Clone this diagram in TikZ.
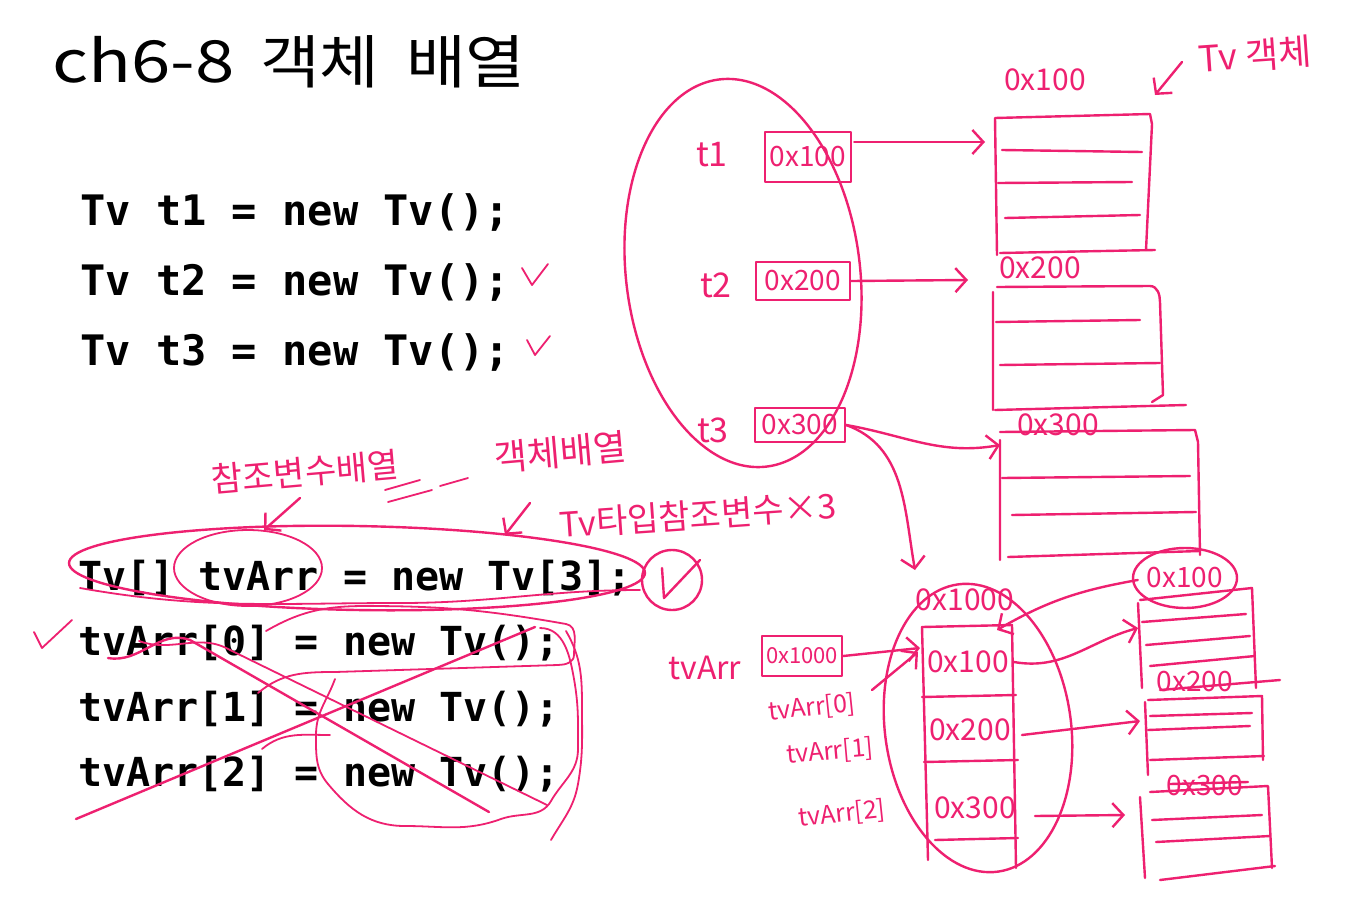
\documentclass[tikz,border=0pt]{standalone}
\usepackage{fontspec}
\setmainfont{Noto Sans CJK KR}
\newfontfamily\codefont{DejaVu Sans Mono}
\newfontfamily\hand{Noto Sans CJK KR}
\newfontfamily\titlelatin[FakeStretch=1.22]{Noto Sans CJK KR}
\newfontfamily\titlekor[FakeStretch=1.12]{Noto Sans CJK KR}
\usetikzlibrary{arrows.meta,shapes.geometric}
\definecolor{pen}{RGB}{238,32,112}
\begin{document}
\begin{tikzpicture}[x=1pt,y=-1pt,
  ink/.style={draw=pen,line width=2.4pt,line cap=round,line join=round},
  thin ink/.style={draw=pen,line width=1.8pt,line cap=round,line join=round},
  arr/.style={ink,-{Straight Barb[length=11pt,width=24pt,line width=2.4pt]}},
  codeA/.style={font=\codefont\bfseries\fontsize{42}{42}\selectfont,anchor=base west,inner sep=0pt},
  codeB/.style={font=\codefont\bfseries\fontsize{40}{40}\selectfont,anchor=base west,inner sep=0pt},
  hw/.style={text=pen,font=\hand\fontsize{28}{28}\selectfont,inner sep=1pt},
  hwl/.style={text=pen,font=\hand\fontsize{34}{34}\selectfont,inner sep=1pt},
  hws/.style={text=pen,font=\hand\fontsize{25}{25}\selectfont,inner sep=0pt},
  cellbox/.style={ink,minimum width=86pt,minimum height=44pt,inner sep=0pt},
  titlefont/.style={anchor=base west,inner sep=0pt}
]
\useasboundingbox[fill=white] (0,0) rectangle (1360,918);

% title
\node[titlefont,font=\titlelatin\fontsize{58}{58}\selectfont] (title) at (52,82) {ch6-8};
\node[titlefont,font=\titlekor\fontsize{58}{58}\selectfont] (title2) at (260,83) {객체};
\node[titlefont,font=\titlekor\fontsize{58}{58}\selectfont] (title3) at (406,83) {배열};

% code
\node[codeA] (l1) at (80,225) {Tv t1 = new Tv();};
\node[codeA] (l2) at (80,295) {Tv t2 = new Tv();};
\node[codeA] (l3) at (80,365) {Tv t3 = new Tv();};
\node[codeB] (m0) at (78,590) {Tv[] tvArr = new Tv[3];};
\node[codeB] (m1) at (78,655) {tvArr[0] = new Tv();};
\node[codeB] (m2) at (78,721) {tvArr[1] = new Tv();};
\node[codeB] (m3) at (78,786) {tvArr[2] = new Tv();};

% check marks by code
\draw[thin ink] (522,268) -- (532,285) -- (548,264);
\draw[thin ink] (527,340) -- (535,355) -- (550,336);
\draw[thin ink] (34,632) -- (42,648) -- (72,620);

% ---------- upper memory picture ----------
\draw[ink,rotate around={7:(743,273)}] (743,273) ellipse [x radius=117, y radius=195];
\node[hwl] (t1) at (712,155) {t1};
\node[hwl] (t2) at (716,285) {t2};
\node[hwl] (t3) at (713,430) {t3};
\node[cellbox,hw,minimum width=86pt,minimum height=50pt] (b1) at (808,157) {0x100};
\node[cellbox,hw,minimum width=94pt,minimum height=38pt] (b2) at (803,281) {0x200};
\node[cellbox,hw,minimum width=90pt,minimum height=34pt] (b3) at (800,425) {0x300};

% Tv objects
\draw[ink] (997,255) -- (995,118) -- (1150,114) -- (1152,124) -- (1146,250);
\draw[ink] (1000,253) -- (1155,250);
\draw[ink] (1002,150) -- (1142,152);
\draw[ink] (998,183) -- (1132,182);
\draw[ink] (1005,218) -- (1140,215);
\node[hw,font=\hand\fontsize{30}{30}\selectfont] (a1) at (1045,80) {0x100};

\draw[ink] (993,410) -- (993,292) (997,287) -- (1150,286) to[out=0,in=90] (1160,302) -- (1163,395) -- (1152,402);
\draw[ink] (995,410) -- (1186,405);
\draw[ink] (996,322) -- (1140,320);
\draw[ink] (1000,365) -- (1160,363);
\node[hw,font=\hand\fontsize{30}{30}\selectfont] (a2) at (1040,268) {0x200};

\draw[ink] (1000,560) -- (1000,440) (1000,432) -- (1195,430) -- (1198,442) -- (1200,555);
\draw[ink] (1002,478) -- (1190,476);
\draw[ink] (1012,515) -- (1196,512);
\draw[ink] (1008,557) -- (1200,551);
\node[hw,font=\hand\fontsize{30}{30}\selectfont] (a3) at (1058,425) {0x300};

\node[hwl,font=\hand\fontsize{36}{36}\selectfont,rotate=4] (tvobj) at (1255,55) {Tv 객체};
\draw[arr] (1182,62) -- (1155,95);

\draw[arr] (b1.east) ++(2,-15) -- (985,142);
\draw[arr] (b2.east) -- (968,280);
\draw[arr] (b3.east) to[out=-10,in=190] (1000,445);
\coordinate (arrTop) at (915,570);
\draw[arr] (b3.east) to[out=-20,in=100] (arrTop);

% ---------- array picture ----------
\draw[ink,rotate around={8:(978,728)}] (978,728) ellipse [x radius=93, y radius=145];
\node[hw,font=\hand\fontsize{30}{30}\selectfont] (arrAddr) at (965,600) {0x1000};
\draw[ink] (922,627) -- (1012,625) -- (1016,868);
\draw[ink] (922,627) -- (928,860);
\draw[ink] (922,697) -- (1016,695);
\draw[ink] (924,762) -- (1018,760);
\draw[ink] (935,840) -- (1018,838);
\node[hw,font=\hand\fontsize{30}{30}\selectfont] (c0) at (968,662) {0x100};
\node[hw,font=\hand\fontsize{30}{30}\selectfont] (c1) at (970,730) {0x200};
\node[hw,font=\hand\fontsize{30}{30}\selectfont] (c2) at (975,808) {0x300};

\node[hwl,font=\hand\fontsize{32}{32}\selectfont] (tvArr) at (705,668) {tvArr};
\node[cellbox,hws,font=\hand\fontsize{22}{22}\selectfont,minimum width=80pt,minimum height=40pt] (bx) at (802,656) {0x1000};
\draw[arr] (bx.east) -- (920,648);
\node[hws,rotate=6] (r0) at (812,708) {tvArr[0]};
\node[hws,rotate=5] (r1) at (830,752) {tvArr[1]};
\node[hws,rotate=6] (r2) at (842,814) {tvArr[2]};
\coordinate (r0tip) at (872,690);
\draw[arr] (r0tip) -- (918,652);

% right-hand Tv objects
\draw[ink] (1185,578) ellipse [x radius=52, y radius=30];
\node[hw] (d1) at (1185,578) {0x100};
\draw[ink] (1138,603) -- (1142,688) (1140,600) -- (1252,588) -- (1256,688);
\draw[ink] (1142,622) -- (1246,614);
\draw[ink] (1146,645) -- (1250,636);
\draw[ink] (1150,666) -- (1255,656);
\draw[ink] (1160,690) -- (1280,680);
\node[hw] (d2) at (1195,682) {0x200};
\draw[ink] (1145,702) -- (1148,775) (1148,700) -- (1262,696) -- (1263,760);
\draw[ink] (1150,716) -- (1252,713);
\draw[ink] (1148,730) -- (1250,726);
\draw[ink] (1150,760) -- (1264,756);
\node[hw] (d3) at (1205,786) {0x300};
\draw[ink] (1170,784) -- (1248,782);
\draw[ink] (1140,797) -- (1145,878) (1150,792) -- (1268,786) -- (1272,868);
\draw[ink] (1152,820) -- (1262,815);
\draw[ink] (1156,842) -- (1270,836);
\draw[ink] (1160,880) -- (1275,866);

\draw[arr] (c0.east) ++(4,0) to[out=-10,in=195] (1138,628);
\draw[arr] (c1.east) ++(10,5) -- (1140,721);
\draw[arr] (c2.east) ++(18,8) -- (1125,815);
\draw[arr] (d1.west) ++(-8,2) to[out=190,in=30] (997,630);

% ---------- annotations ----------
\node[hwl,rotate=5] (n1) at (305,472) {참조변수배열};
\draw[thin ink] (385,490) -- (420,480) (388,502) -- (432,490) (440,486) -- (468,478);
\node[hwl,font=\hand\fontsize{36}{36}\selectfont,rotate=5] (n2) at (560,452) {객체배열};
\node[hwl,rotate=4] (n3) at (698,515) {Tv타입참조변수×3};
\draw[arr] (300,498) -- (264,530);
\draw[arr] (530,503) -- (505,535);

% ellipses around code
\draw[ink,rotate around={-1:(357,568)}] (357,568) ellipse [x radius=288, y radius=42];
\draw[thin ink] (248,568) ellipse [x radius=74, y radius=38];
\draw[thin ink] (80,588) to[out=-10,in=180] (400,603) to[out=0,in=180] (640,590);
% loop around the first new Tv();
\draw[thin ink] (266,631) to[out=30,in=180] (366,606) to[out=0,in=170] (566,624) to[out=-10,in=90] (574,655) to[out=-90,in=0] (558,665) -- (335,672);
% big loop
\draw[thin ink] (335,679) to[out=-110,in=90] (316,735) to[out=-90,in=130] (328,784) to[out=-50,in=180] (405,826) to[out=0,in=200] (501,819) to[out=20,in=-120] (551,801) to[out=60,in=-90] (578,749) to[out=90,in=-80] (574,679) to[out=100,in=0] (540,628);
\draw[thin ink] (566,631) to[out=-60,in=90] (582,707) to[out=-90,in=80] (578,784) to[out=-100,in=60] (551,840);
\draw[thin ink] (258,693) to[out=40,in=180] (335,672);
\draw[thin ink] (262,749) to[out=40,in=180] (330,735);
% cross over element assignments
\draw[ink] (108,658) to[out=-10,in=160] (190,640) -- (489,812);
\draw[thin ink] (139,641) to[out=-20,in=150] (230,650) -- (547,805);
\draw[ink] (76,819) -- (535,627);

% circled check
\draw[ink] (672,580) circle [radius=30];
\draw[ink] (662,568) -- (664,598) -- (700,560);
\end{tikzpicture}
\end{document}
